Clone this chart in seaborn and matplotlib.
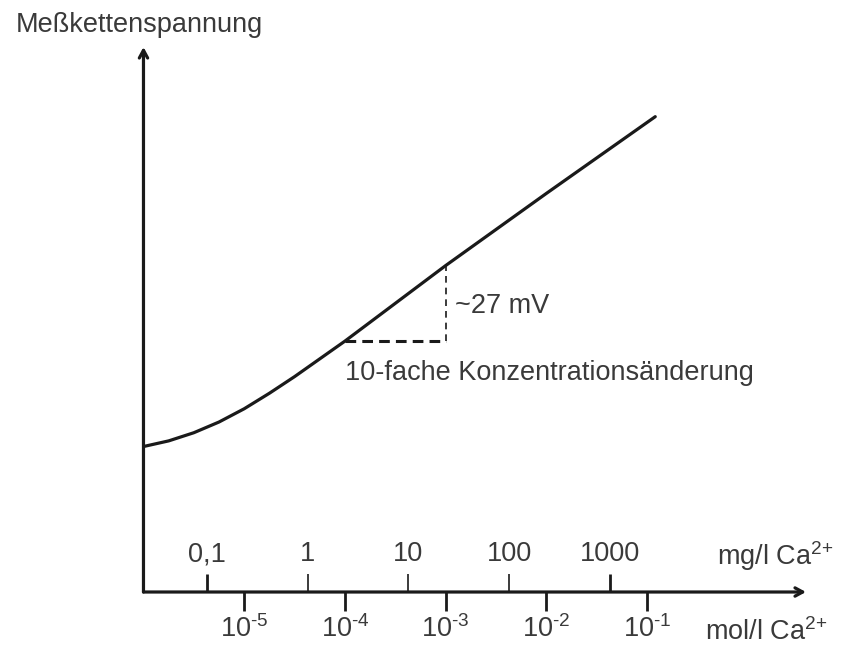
import numpy as np
import pandas as pd
import matplotlib
matplotlib.use("Agg")
import matplotlib.pyplot as plt
import seaborn as sns

# ---------------------------------------------------------------
# Data (x = log10 of mol/l Ca2+, y = mV)
# ---------------------------------------------------------------
log_c = [-6.0, -5.75, -5.5, -5.25, -5.0, -4.75, -4.5, -4.25, -4.0, -3.0, -2.0, -0.92]
mv = [51.6, 53.6, 56.5, 60.3, 65.0, 70.5, 76.4, 82.7, 89.0, 115.8, 141.4, 168.6]

mol_exp = [-5, -4, -3, -2, -1]
mol_labels = [r"10$^{\text{%d}}$" % e for e in mol_exp]

mg_values = [0.1, 1, 10, 100, 1000]
mg_labels = ["0,1", "1", "10", "100", "1000"]
mg_offset = -4.37  # where the mg/l scale sits on the mol/l scale in the drawing

# slope triangle: one decade, from 10^-4 to 10^-3 mol/l
tri_left, tri_right = -4.0, -3.0

df = pd.DataFrame({"log_c": log_c, "mv": mv})

sns.set_style("white")
plt.rcParams["font.family"] = ["Liberation Sans", "DejaVu Sans"]
plt.rcParams["mathtext.fontset"] = "custom"
plt.rcParams["mathtext.rm"] = "Liberation Sans"
plt.rcParams["mathtext.it"] = "Liberation Sans:italic"
plt.rcParams["mathtext.bf"] = "Liberation Sans:bold"

txt_col = "#3a3a3a"
line_col = "#1a1a1a"
fs = 19.5

fig = plt.figure(figsize=(8.45, 6.47), dpi=100)
ax = fig.add_axes([0.1698, 0.085, 0.784, 0.8423])
ax.set_xlim(-6.0, 0.576)
ax.set_ylim(0, 193.3)

sns.lineplot(data=df, x="log_c", y="mv", ax=ax, color=line_col, lw=2.3)

# dashed slope triangle
y_lo = df.loc[df.log_c == tri_left, "mv"].iloc[0]
y_hi = df.loc[df.log_c == tri_right, "mv"].iloc[0]
ax.plot([tri_left, tri_right], [y_lo, y_lo], color=line_col, lw=2.2,
        linestyle=(0, (3.5, 2)))
ax.plot([tri_right, tri_right], [y_lo, y_hi], color=line_col, lw=1.2,
        linestyle=(0, (4, 3)))

ax.text(tri_right + 0.09, y_lo + 10, "~27 mV", fontsize=fs, color=txt_col,
        va="baseline", ha="left")
ax.text(tri_left, y_lo - 13.8, "10-fache Konzentrationsänderung", fontsize=fs,
        color=txt_col, va="baseline", ha="left")

# axes with arrow heads
for spine in ax.spines.values():
    spine.set_visible(False)
arrow = dict(arrowstyle="->,head_length=0.55,head_width=0.3", lw=2.3,
             color=line_col, shrinkA=0, shrinkB=0)
ax.annotate("", xy=(1.0, 0), xytext=(0, 0), xycoords="axes fraction", arrowprops=arrow)
ax.annotate("", xy=(0, 1.0), xytext=(0, 0), xycoords="axes fraction", arrowprops=arrow)

ax.set_yticks([])
ax.set_xticks(mol_exp, mol_labels)
ax.tick_params(axis="x", direction="out", length=14, width=2.0, pad=3,
               labelsize=fs, color=line_col, labelcolor=txt_col)
ax.set_xlabel("")
ax.set_ylabel("")

# mg/l scale: ticks and labels above the axis line
ax2 = ax.twiny()
ax2.set_xlim(ax.get_xlim())
for spine in ax2.spines.values():
    spine.set_visible(False)
ax2.spines["top"].set_position(("axes", 0))
ax2.set_xticks([np.log10(v) + mg_offset for v in mg_values], mg_labels)
ax2.tick_params(axis="x", direction="out", length=13, width=2.0, pad=5,
                labelsize=fs, color=line_col, labelcolor=txt_col)
for i, t in enumerate(ax2.xaxis.get_major_ticks()):
    if i in (1, 2, 3):
        t.tick2line.set_markeredgewidth(1.2)

ax.text(1.041, 0.0495, r"mg/l Ca$^{\text{2+}}$", transform=ax.transAxes,
        fontsize=fs, color=txt_col, ha="right", va="baseline", clip_on=False)
ax.text(1.032, -0.088, r"mol/l Ca$^{\text{2+}}$", transform=ax.transAxes,
        fontsize=fs, color=txt_col, ha="right", va="baseline", clip_on=False)

fig.text(16 / 845, 1 - 32 / 647, "Meßkettenspannung", fontsize=fs, color=txt_col,
         ha="left", va="baseline")

fig.savefig("out.png", dpi=100)
